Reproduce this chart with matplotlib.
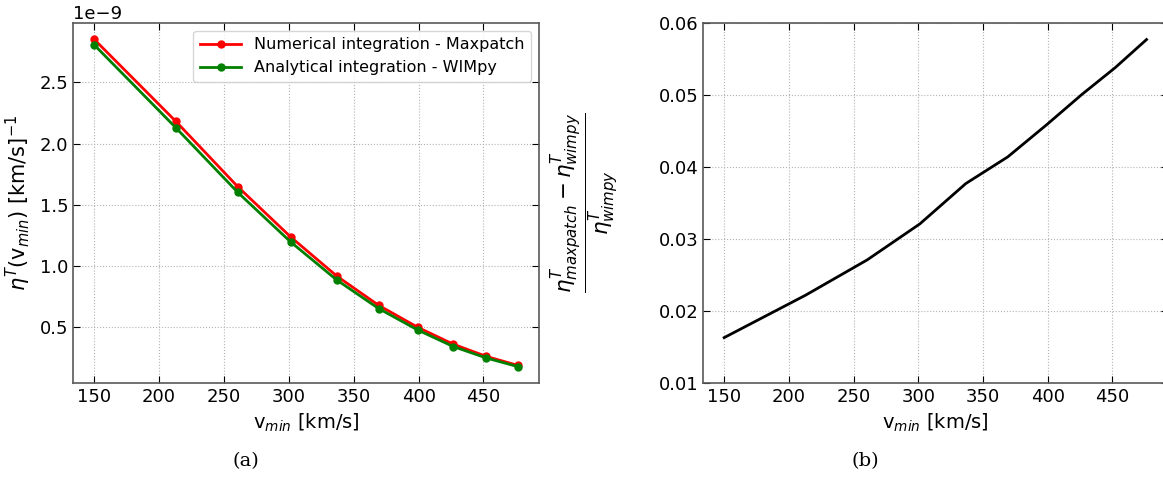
import numpy as np
import matplotlib
matplotlib.use("Agg")
import matplotlib.pyplot as plt

# v_min points (km/s)
v_min = [150, 213, 260.6, 301.3, 336.8, 369.2, 399.5, 426.7, 452.3, 476.5]
# eta^T in units of 1e-9 (km/s)^-1
eta_maxpatch = [2.85, 2.18, 1.648, 1.239, 0.92, 0.68, 0.50, 0.363, 0.263, 0.19]
eta_wimpy = [2.805, 2.128, 1.602, 1.198, 0.888, 0.654, 0.478, 0.344, 0.25, 0.18]
# relative difference (maxpatch - wimpy) / wimpy
rel_diff = [0.0163, 0.0222, 0.0271, 0.0321, 0.0377, 0.0414, 0.0459, 0.0501, 0.0538, 0.0577]

plt.rcParams['font.family'] = 'DejaVu Sans'
plt.rcParams['font.size'] = 13

def style_axes(ax):
    ax.tick_params(direction='in', top=True, right=True, labelsize=13, length=5)
    ax.grid(True, linestyle=':', color='0.7', linewidth=0.8)
    for s in ax.spines.values():
        s.set_color('0.35')
        s.set_linewidth(1.2)

fig = plt.figure(figsize=(11.63, 4.84), dpi=100)
ax1 = fig.add_axes([0.0628, 0.2087, 0.4007, 0.7438])
ax2 = fig.add_axes([0.6045, 0.2087, 0.3995, 0.7438])

# left panel
ax1.plot(v_min, np.array(eta_maxpatch) * 1e-9, 'o-', color='red', lw=2, ms=5,
         label='Numerical integration - Maxpatch')
ax1.plot(v_min, np.array(eta_wimpy) * 1e-9, 'o-', color='green', lw=2, ms=5,
         label='Analytical integration - WIMpy')
ax1.set_yticks(np.array([0.5, 1.0, 1.5, 2.0, 2.5]) * 1e-9)
ax1.set_xticks([150, 200, 250, 300, 350, 400, 450])
ax1.set_xlabel(r'v$_{min}$ [km/s]', fontsize=14)
ax1.set_ylabel(r'$\eta^T$(v$_{min}$) [km/s]$^{-1}$', fontsize=15)
ax1.yaxis.set_label_coords(-0.085, 0.5)
ax1.yaxis.offsetText.set_fontsize(13)
ax1.legend(loc='upper right', fontsize=11.5, handlelength=2.6)
style_axes(ax1)

# right panel
ax2.plot(v_min, rel_diff, color='black', lw=2)
ax2.set_ylim(0.01, 0.06)
ax2.set_xticks([150, 200, 250, 300, 350, 400, 450])
ax2.set_xlabel(r'v$_{min}$ [km/s]', fontsize=14)
ax2.set_ylabel(r'$\frac{\eta^T_{maxpatch} - \eta^T_{wimpy}}{\eta^T_{wimpy}}$', fontsize=22)
ax2.yaxis.set_label_coords(-0.175, 0.5)
style_axes(ax2)

fig.text(0.2115, 0.036, '(a)', family='DejaVu Serif', fontsize=14, ha='center')
fig.text(0.7438, 0.036, '(b)', family='DejaVu Serif', fontsize=14, ha='center')

fig.savefig('out.png', dpi=100)
